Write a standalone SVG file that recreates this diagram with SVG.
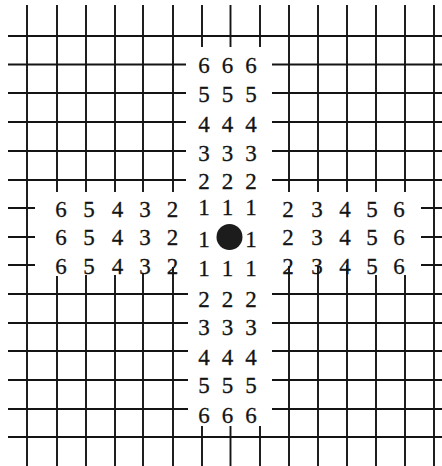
<svg xmlns="http://www.w3.org/2000/svg" width="442" height="466" viewBox="0 0 442 466">
<style>
.ln{stroke:#141414;stroke-width:1.9;fill:none;stroke-linecap:butt}
.d{font-family:"Liberation Serif","Times New Roman",serif;font-size:23px;fill:#141414;stroke:#141414;stroke-width:0.3;text-anchor:middle}
</style>
<rect width="442" height="466" fill="#ffffff"/>
<g id="grid" class="ln">
<path d="M8 36H442 M8 437H442"/>
<path d="M8 64.5H186 M272 64.5H442 M8 93H186 M272 93H442 M8 122H186 M272 122H442 M8 151H186 M272 151H442 M8 180H186 M272 180H442"/>
<path d="M8 208H35 M421 208H442 M8 237H35 M421 237H442 M8 265H35 M421 265H442"/>
<path d="M8 294H188 M272 294H442 M8 323H188 M272 323H442 M8 351H188 M272 351H442 M8 380H188 M272 380H442 M8 409H188 M272 409H442"/>
<path d="M27 5V466 M434 5V466"/>
<path d="M57 5V192 M57 276V466 M86 5V192 M86 275V466 M115 5V192 M115 275V466 M143 5V192 M143 273V466 M173 5V192 M173 267V466"/>
<path d="M202 5V47 M202 426V466 M230.5 5V47 M230.5 426V466 M260 5V47 M260 426V466"/>
<path d="M289 5V192 M289 266V466 M318 5V192 M318 266V466 M347 5V192 M347 265V466 M376 5V192 M376 275V466 M405 5V192 M405 275V466"/>
</g>
<g id="center-dot">
<circle cx="229.5" cy="237" r="13" fill="#1c1c1c"/>
</g>
<g id="labels-vertical" class="d">
<text x="204" y="72.8">6</text><text x="227.5" y="72.8">6</text><text x="251" y="72.8">6</text>
<text x="204" y="101.8">5</text><text x="227.5" y="101.8">5</text><text x="251" y="101.8">5</text>
<text x="204" y="131.8">4</text><text x="227.5" y="131.8">4</text><text x="251" y="131.8">4</text>
<text x="204" y="160.8">3</text><text x="227.5" y="160.8">3</text><text x="251" y="160.8">3</text>
<text x="204" y="188.8">2</text><text x="227.5" y="188.8">2</text><text x="251" y="188.8">2</text>
<text x="204" y="215.3">1</text><text x="227.5" y="215.3">1</text><text x="251" y="215.3">1</text>
<text x="204" y="246.8">1</text><text x="251" y="246.8">1</text>
<text x="204" y="275.8">1</text><text x="227.5" y="275.8">1</text><text x="251" y="275.8">1</text>
<text x="204" y="306.8">2</text><text x="227.5" y="306.8">2</text><text x="251" y="306.8">2</text>
<text x="204" y="334.8">3</text><text x="227.5" y="334.8">3</text><text x="251" y="334.8">3</text>
<text x="204" y="364.8">4</text><text x="227.5" y="364.8">4</text><text x="251" y="364.8">4</text>
<text x="204" y="392.8">5</text><text x="227.5" y="392.8">5</text><text x="251" y="392.8">5</text>
<text x="204" y="422.8">6</text><text x="227.5" y="422.8">6</text><text x="251" y="422.8">6</text>
</g>
<g id="labels-left" class="d">
<text x="61" y="216.8">6</text><text x="89" y="216.8">5</text><text x="117.5" y="216.8">4</text><text x="145" y="216.8">3</text><text x="172.5" y="216.8">2</text>
<text x="61" y="245.3">6</text><text x="89" y="245.3">5</text><text x="117.5" y="245.3">4</text><text x="145" y="245.3">3</text><text x="172.5" y="245.3">2</text>
<text x="61" y="273.8">6</text><text x="89" y="273.8">5</text><text x="117.5" y="273.8">4</text><text x="145" y="273.8">3</text><text x="172.5" y="273.8">2</text>
</g>
<g id="labels-right" class="d">
<text x="288" y="216.8">2</text><text x="317" y="216.8">3</text><text x="345" y="216.8">4</text><text x="372" y="216.8">5</text><text x="399" y="216.8">6</text>
<text x="288" y="245.3">2</text><text x="317" y="245.3">3</text><text x="345" y="245.3">4</text><text x="372" y="245.3">5</text><text x="399" y="245.3">6</text>
<text x="288" y="273.8">2</text><text x="317" y="273.8">3</text><text x="345" y="273.8">4</text><text x="372" y="273.8">5</text><text x="399" y="273.8">6</text>
</g>
</svg>
